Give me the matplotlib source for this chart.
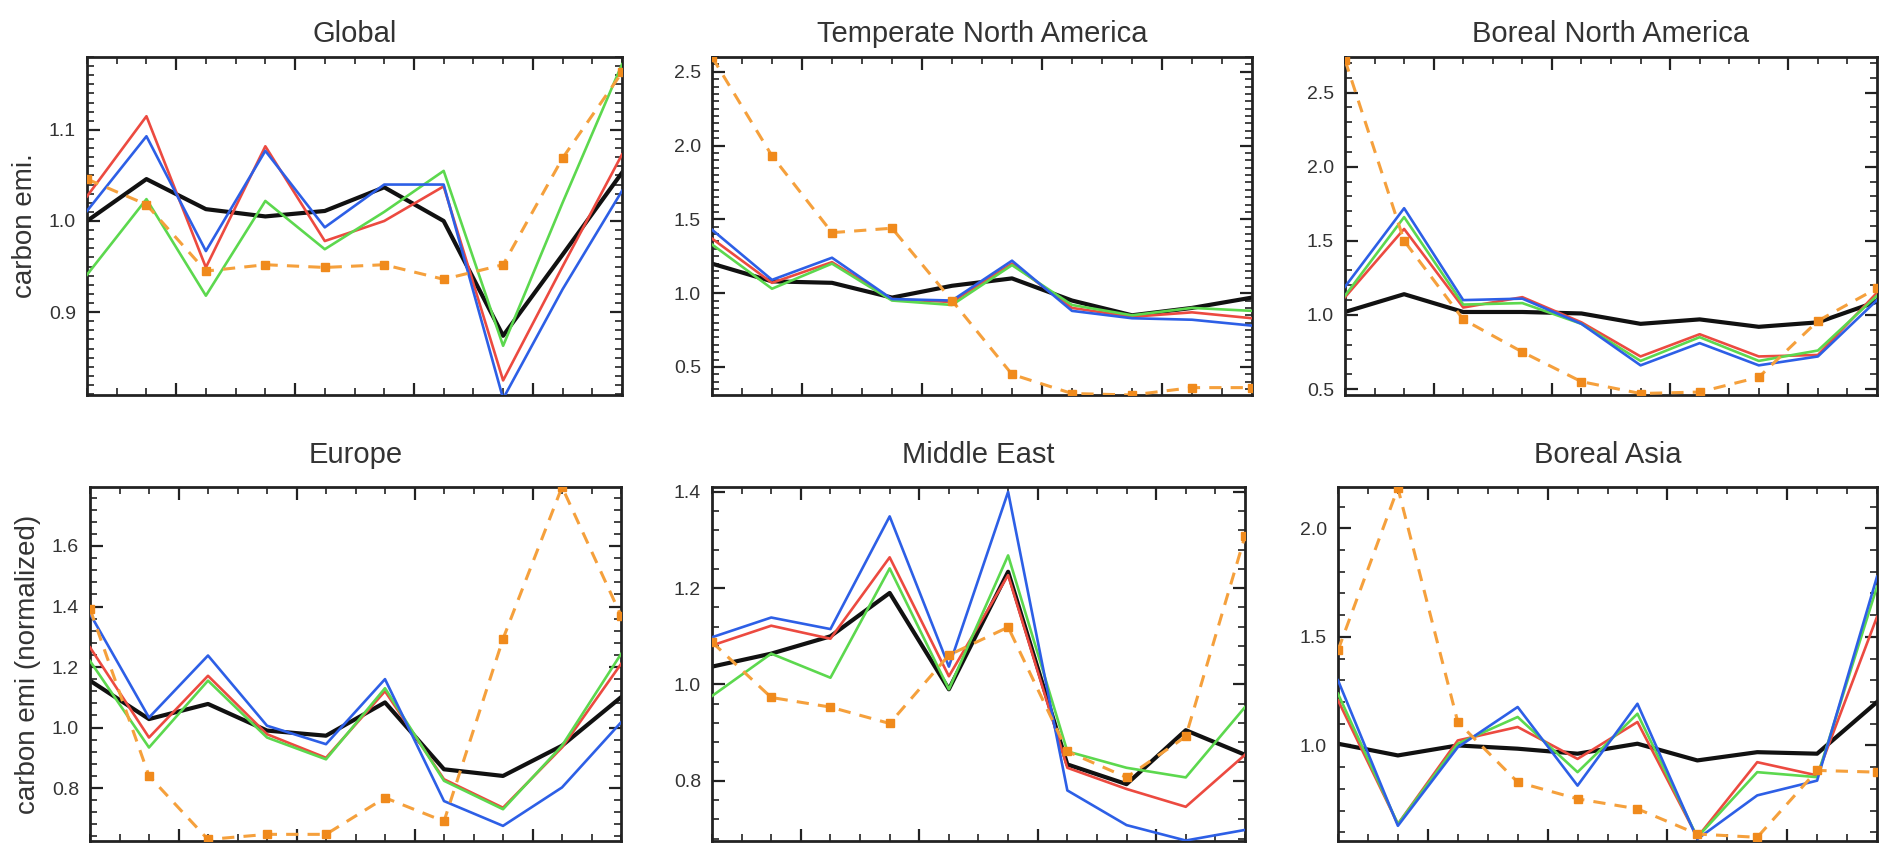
import matplotlib
matplotlib.use('Agg')
import matplotlib.pyplot as plt
from matplotlib.ticker import MultipleLocator, FixedLocator

plt.rcParams['font.family'] = ['Liberation Sans', 'DejaVu Sans']

# ---------------- data ----------------
x = list(range(10))

titles = ["Global", "Temperate North America", "Boreal North America",
          "Europe", "Middle East", "Boreal Asia"]

global_red    = [1.027, 1.115, 0.949, 1.082, 0.978, 1.000, 1.038, 0.825, 0.950, 1.073]
global_blue   = [1.011, 1.093, 0.967, 1.077, 0.993, 1.040, 1.040, 0.805, 0.925, 1.033]
global_green  = [0.941, 1.024, 0.918, 1.022, 0.969, 1.010, 1.055, 0.863, 1.020, 1.172]
global_black  = [1.000, 1.046, 1.013, 1.005, 1.011, 1.037, 1.000, 0.874, 0.963, 1.053]
global_orange = [1.046, 1.018, 0.945, 0.952, 0.949, 0.952, 0.936, 0.952, 1.069, 1.163]

tna_red    = [1.37, 1.07, 1.21, 0.96, 0.94, 1.20, 0.90, 0.84, 0.87, 0.83]
tna_blue   = [1.43, 1.09, 1.24, 0.96, 0.95, 1.22, 0.88, 0.83, 0.82, 0.78]
tna_green  = [1.33, 1.03, 1.20, 0.95, 0.92, 1.19, 0.92, 0.85, 0.90, 0.88]
tna_black  = [1.20, 1.08, 1.07, 0.97, 1.05, 1.10, 0.95, 0.85, 0.90, 0.97]
tna_orange = [2.60, 1.93, 1.41, 1.44, 0.95, 0.45, 0.32, 0.31, 0.36, 0.36]

bna_red    = [1.12, 1.58, 1.05, 1.12, 0.95, 0.72, 0.87, 0.72, 0.73, 1.15]
bna_blue   = [1.19, 1.72, 1.10, 1.11, 0.94, 0.66, 0.81, 0.66, 0.72, 1.10]
bna_green  = [1.13, 1.66, 1.07, 1.08, 0.94, 0.69, 0.85, 0.69, 0.76, 1.13]
bna_black  = [1.02, 1.14, 1.02, 1.02, 1.01, 0.94, 0.97, 0.92, 0.95, 1.09]
bna_orange = [2.72, 1.50, 0.97, 0.75, 0.55, 0.47, 0.48, 0.58, 0.96, 1.18]

eu_red    = [1.265, 0.967, 1.171, 0.978, 0.900, 1.120, 0.829, 0.735, 0.934, 1.210]
eu_blue   = [1.376, 1.033, 1.238, 1.006, 0.945, 1.160, 0.757, 0.675, 0.802, 1.017]
eu_green  = [1.220, 0.934, 1.155, 0.967, 0.895, 1.130, 0.824, 0.730, 0.940, 1.243]
eu_black  = [1.155, 1.028, 1.078, 0.990, 0.973, 1.083, 0.862, 0.840, 0.940, 1.100]
eu_orange = [1.392, 0.840, 0.630, 0.647, 0.647, 0.768, 0.690, 1.293, 1.795, 1.370]

me_red    = [1.081, 1.122, 1.095, 1.264, 1.017, 1.227, 0.827, 0.783, 0.746, 0.854]
me_blue   = [1.098, 1.139, 1.115, 1.349, 1.037, 1.400, 0.780, 0.708, 0.676, 0.698]
me_green  = [0.976, 1.064, 1.014, 1.241, 0.990, 1.268, 0.861, 0.827, 0.807, 0.953]
me_black  = [1.037, 1.064, 1.100, 1.190, 0.990, 1.234, 0.834, 0.793, 0.905, 0.854]
me_orange = [1.088, 0.973, 0.953, 0.919, 1.061, 1.119, 0.861, 0.807, 0.892, 1.308]

ba_red    = [1.208, 0.638, 1.023, 1.085, 0.938, 1.108, 0.577, 0.923, 0.862, 1.592]
ba_blue   = [1.300, 0.630, 0.992, 1.177, 0.815, 1.192, 0.569, 0.770, 0.838, 1.777]
ba_green  = [1.238, 0.638, 1.008, 1.131, 0.877, 1.146, 0.577, 0.877, 0.854, 1.731]
ba_black  = [1.008, 0.954, 1.000, 0.985, 0.962, 1.008, 0.931, 0.969, 0.962, 1.200]
ba_orange = [1.438, 2.185, 1.108, 0.831, 0.754, 0.708, 0.592, 0.577, 0.885, 0.877]

panels = [
    (global_red, global_blue, global_green, global_black, global_orange),
    (tna_red, tna_blue, tna_green, tna_black, tna_orange),
    (bna_red, bna_blue, bna_green, bna_black, bna_orange),
    (eu_red, eu_blue, eu_green, eu_black, eu_orange),
    (me_red, me_blue, me_green, me_black, me_orange),
    (ba_red, ba_blue, ba_green, ba_black, ba_orange),
]

ylabels = ["carbon emi.", "", "", "carbon emi (normalized)", "", ""]

# ---------------- layout / style ----------------
W, H = 1880, 843
boxes = [  # left, right, top, bottom in pixels
    (87, 622, 57, 395), (712, 1252, 57, 395), (1345, 1877, 57, 395),
    (90, 621, 487, 841), (712, 1245, 487, 841), (1338, 1877, 487, 841),
]
title_pad = [11, 11, 11, 17, 17, 17]
ylims = [(0.809, 1.180), (0.31, 2.60), (0.46, 2.74),
         (0.625, 1.795), (0.675, 1.41), (0.56, 2.19)]
ymajor = [0.1, 0.5, 0.5, 0.2, 0.2, 0.5]
yminor = [0.01, 0.05, 0.1, 0.04, 0.04, 0.1]

c_red = '#ec4a40'
c_blue = '#2d5fe6'
c_green = '#5cd84e'
c_black = '#111111'
c_orange = '#f5a03c'
c_mark = '#f08a1c'
txt = '#333333'

fig = plt.figure(figsize=(W / 100, H / 100), dpi=100)

for i, (l, r, t, b) in enumerate(boxes):
    ax = fig.add_axes([l / W, 1 - b / H, (r - l) / W, (b - t) / H])
    red, blue, green, black, orange = panels[i]
    ax.plot(x, black, color=c_black, lw=3.0, solid_joinstyle='round', zorder=2)
    ax.plot(x, red, color=c_red, lw=1.9, zorder=3)
    ax.plot(x, green, color=c_green, lw=1.9, zorder=3)
    ax.plot(x, blue, color=c_blue, lw=1.9, zorder=4)
    ax.plot(x, orange, color=c_orange, lw=2.2, linestyle=(0, (4, 3)),
            marker='s', markersize=6, markerfacecolor=c_mark,
            markeredgecolor=c_mark, zorder=5)
    ax.set_xlim(0, 9)
    ax.set_ylim(*ylims[i])
    ax.xaxis.set_major_locator(FixedLocator([1.5, 3.5, 5.5, 7.5]))
    ax.xaxis.set_minor_locator(MultipleLocator(0.5))
    ax.yaxis.set_major_locator(MultipleLocator(ymajor[i]))
    ax.yaxis.set_minor_locator(MultipleLocator(yminor[i]))
    ax.tick_params(which='both', direction='in', top=True, right=True,
                   labelbottom=False, colors='#222222', labelcolor=txt,
                   labelsize=14, pad=8)
    ax.tick_params(which='major', length=9, width=1.6)
    ax.tick_params(which='minor', length=5, width=1.2)
    for s in ax.spines.values():
        s.set_linewidth(2.0)
        s.set_color('#222222')
    ax.set_title(titles[i], fontsize=21, color=txt, pad=title_pad[i])
    if ylabels[i]:
        ax.set_ylabel(ylabels[i], fontsize=20, color=txt, labelpad=8)

fig.savefig('out.png', dpi=100)
